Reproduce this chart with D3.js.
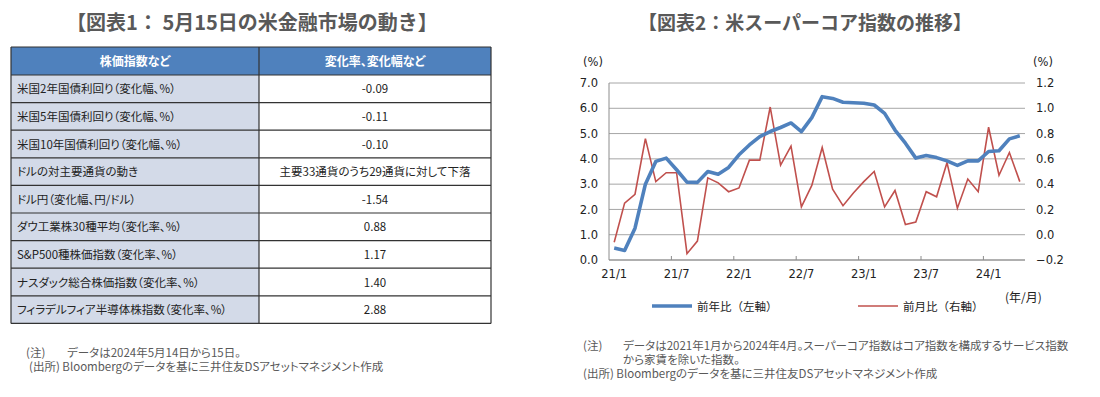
<!DOCTYPE html>
<html>
<head>
<meta charset="utf-8">
<script src="https://cdn.jsdelivr.net/npm/d3@7"></script>
<style>
body { margin: 0; background: #fff; }
text { font-family: "Noto Sans CJK JP", "Noto Sans", sans-serif; }
.palt { font-feature-settings: "palt"; }
</style>
</head>
<body>
<script>
// table (chart 1)
var tableHeaders = ["株価指数など", "変化率、変化幅など"];
var tableLabels = ["米国2年国債利回り（変化幅、%）", "米国5年国債利回り（変化幅、%）", "米国10年国債利回り（変化幅、%）",
    "ドルの対主要通貨の動き", "ドル円（変化幅、円/ドル）", "ダウ工業株30種平均（変化率、%）",
    "S&P500種株価指数（変化率、%）", "ナスダック総合株価指数（変化率、%）", "フィラデルフィア半導体株指数（変化率、%）"];
var tableValues = ["-0.09", "-0.11", "-0.10", "主要33通貨のうち29通貨に対して下落", "-1.54", "0.88", "1.17", "1.40", "2.88"];

// line chart (chart 2)
var months = ["21/1","21/2","21/3","21/4","21/5","21/6","21/7","21/8","21/9","21/10","21/11","21/12",
    "22/1","22/2","22/3","22/4","22/5","22/6","22/7","22/8","22/9","22/10","22/11","22/12",
    "23/1","23/2","23/3","23/4","23/5","23/6","23/7","23/8","23/9","23/10","23/11","23/12",
    "24/1","24/2","24/3","24/4"];
var yoy = [0.47,0.38,1.26,3.00,3.90,4.03,3.57,3.08,3.07,3.50,3.39,3.66,
    4.16,4.55,4.88,5.08,5.24,5.42,5.08,5.63,6.46,6.39,6.24,6.22,
    6.20,6.13,5.80,5.14,4.62,4.03,4.13,4.05,3.92,3.74,3.92,3.92,
    4.29,4.32,4.79,4.91];
var mom = [-0.06,0.25,0.32,0.76,0.42,0.49,0.49,-0.15,-0.05,0.45,0.41,0.34,
    0.37,0.59,0.59,1.01,0.55,0.70,0.22,0.39,0.69,0.36,0.23,0.33,
    0.42,0.50,0.22,0.35,0.08,0.10,0.34,0.30,0.57,0.21,0.44,0.34,
    0.85,0.47,0.65,0.42];
var leftTicks = [0,1,2,3,4,5,6,7];
var rightTicks = [-0.2,0,0.2,0.4,0.6,0.8,1.0,1.2];

var grayText = "#595959";

var svg = d3.select("body").append("svg")
    .attr("width", 1100)
    .attr("height", 397);

// ---------- chart 1: table ----------
svg.append("text")
    .attr("x", 252).attr("y", 30)
    .attr("text-anchor", "middle")
    .attr("font-size", 20).attr("font-weight", "bold")
    .attr("fill", grayText)
    .text("【図表1： 5月15日の米金融市場の動き】");

var tbl = {left: 11, mid: 259, right: 491, top: 47, headH: 28, rowH: 27.6};

var rowY = d3.scaleLinear().domain([0, tableLabels.length]).range([tbl.top + tbl.headH, tbl.top + tbl.headH + tbl.rowH * tableLabels.length]);

// header
svg.append("rect")
    .attr("x", tbl.left).attr("y", tbl.top)
    .attr("width", tbl.right - tbl.left).attr("height", tbl.headH)
    .attr("fill", "#4f81bd");
tableHeaders.forEach(function(h, i) {
    var cx = i == 0 ? (tbl.left + tbl.mid) / 2 : (tbl.mid + tbl.right) / 2;
    svg.append("text")
        .attr("class", "palt")
        .attr("x", cx).attr("y", tbl.top + tbl.headH / 2 + 4.5)
        .attr("text-anchor", "middle")
        .attr("font-size", 12).attr("font-weight", "bold")
        .attr("fill", "#fff")
        .text(h);
});

var rows = svg.selectAll(".row").data(tableLabels).enter().append("g");
rows.append("rect")
    .attr("x", tbl.left)
    .attr("y", function(d, i) { return rowY(i); })
    .attr("width", tbl.mid - tbl.left).attr("height", tbl.rowH)
    .attr("fill", "#d3dae8");
rows.append("text")
    .attr("class", "palt")
    .attr("x", tbl.left + 6)
    .attr("y", function(d, i) { return rowY(i) + tbl.rowH / 2 + 4.5; })
    .attr("font-size", 11.5).attr("fill", "#222")
    .text(function(d) { return d; });
rows.append("text")
    .attr("class", "palt")
    .attr("x", (tbl.mid + tbl.right) / 2)
    .attr("y", function(d, i) { return rowY(i) + tbl.rowH / 2 + 4.5; })
    .attr("text-anchor", "middle")
    .attr("font-size", 11.5).attr("fill", "#222")
    .text(function(d, i) { return tableValues[i]; });

// grid lines
var tableBottom = rowY(tableLabels.length);
d3.range(tableLabels.length + 1).forEach(function(i) {
    svg.append("line")
        .attr("x1", tbl.left).attr("x2", tbl.right)
        .attr("y1", rowY(i)).attr("y2", rowY(i))
        .attr("stroke", "#333").attr("stroke-width", 1.2);
});
svg.append("line").attr("x1", tbl.left).attr("x2", tbl.right)
    .attr("y1", tbl.top).attr("y2", tbl.top).attr("stroke", "#333").attr("stroke-width", 1.2);
[tbl.left, tbl.mid, tbl.right].forEach(function(x) {
    svg.append("line").attr("x1", x).attr("x2", x)
        .attr("y1", tbl.top).attr("y2", tableBottom)
        .attr("stroke", "#333").attr("stroke-width", 1.2);
});

// left notes, one text block
var leftNote = svg.append("text").attr("class", "palt").attr("font-size", 11.5).attr("fill", grayText);
leftNote.append("tspan").attr("x", 26).attr("y", 357).text("(注)");
leftNote.append("tspan").attr("x", 67).attr("y", 357).text("データは2024年5月14日から15日。");
leftNote.append("tspan").attr("x", 29).attr("y", 371).text("(出所) Bloombergのデータを基に三井住友DSアセットマネジメント作成");

// ---------- chart 2: lines ----------
svg.append("text")
    .attr("x", 805).attr("y", 30)
    .attr("text-anchor", "middle")
    .attr("font-size", 19).attr("font-weight", "bold")
    .attr("fill", grayText)
    .text("【図表2：米スーパーコア指数の推移】");

var plot = {left: 609, right: 1025, top: 83, bottom: 260};

var x = d3.scaleBand().domain(months).range([plot.left, plot.right]);
var yL = d3.scaleLinear().domain([0, 7]).range([plot.bottom, plot.top]);
var yR = d3.scaleLinear().domain([-0.2, 1.2]).range([plot.bottom, plot.top]);

var g = svg.append("g");

// horizontal grid
g.selectAll(".grid").data(leftTicks).enter().append("line")
    .attr("x1", plot.left).attr("x2", plot.right)
    .attr("y1", function(d) { return yL(d); }).attr("y2", function(d) { return yL(d); })
    .attr("stroke", "#a6a6a6").attr("stroke-width", 1);

// axes lines
g.append("line").attr("x1", plot.left).attr("x2", plot.left)
    .attr("y1", plot.top).attr("y2", plot.bottom).attr("stroke", "#8c8c8c");
g.append("line").attr("x1", plot.left).attr("x2", plot.right)
    .attr("y1", plot.bottom).attr("y2", plot.bottom).attr("stroke", "#8c8c8c");

// x tick marks at category boundaries (every 6 months)
var tickMonths = months.filter(function(m) { return /\/(1|7)$/.test(m); });
g.selectAll(".xtick").data(tickMonths.slice(1)).enter().append("line")
    .attr("x1", function(d) { return x(d); }).attr("x2", function(d) { return x(d); })
    .attr("y1", plot.bottom).attr("y2", plot.bottom - 4)
    .attr("stroke", "#8c8c8c");

var axisFont = "DejaVu Sans, Verdana, sans-serif";

var xAxis = svg.append("g")
    .attr("transform", "translate(0," + plot.bottom + ")")
    .call(d3.axisBottom(x).tickValues(tickMonths).tickSize(0).tickPadding(10));
xAxis.select(".domain").remove();
xAxis.selectAll("text").attr("font-size", 11.5).attr("fill", "#222").style("font-family", axisFont);

var yAxisL = svg.append("g")
    .attr("transform", "translate(" + 598 + ",0)")
    .call(d3.axisLeft(yL).tickValues(leftTicks).tickSize(0).tickPadding(0).tickFormat(d3.format(".1f")));
yAxisL.select(".domain").remove();
yAxisL.selectAll("text").attr("font-size", 11.5).attr("fill", "#222").style("font-family", axisFont);

var yAxisR = svg.append("g")
    .attr("transform", "translate(" + 1036 + ",0)")
    .call(d3.axisRight(yR).tickValues(rightTicks).tickSize(0).tickPadding(0).tickFormat(d3.format(".1f")));
yAxisR.select(".domain").remove();
yAxisR.selectAll("text").attr("font-size", 11.5).attr("fill", "#222").style("font-family", axisFont);

svg.append("text").attr("x", 593).attr("y", 66).attr("text-anchor", "middle")
    .attr("font-size", 11.5).attr("fill", "#222").style("font-family", axisFont).text("(%)");
svg.append("text").attr("x", 1043).attr("y", 66).attr("text-anchor", "middle")
    .attr("font-size", 11.5).attr("fill", "#222").style("font-family", axisFont).text("(%)");

var cx = function(d, i) { return x(months[i]) + x.bandwidth() / 2; };

g.append("path")
    .datum(mom)
    .attr("fill", "none")
    .attr("stroke", "#c0504d").attr("stroke-width", 1.6)
    .attr("d", d3.line().x(cx).y(function(d) { return yR(d); }));

g.append("path")
    .datum(yoy)
    .attr("fill", "none")
    .attr("stroke", "#4f81bd").attr("stroke-width", 3.6)
    .attr("stroke-linejoin", "round")
    .attr("d", d3.line().x(cx).y(function(d) { return yL(d); }));

// legend
var legend = [
    {name: "前年比（左軸）", color: "#4f81bd", w: 3.6, x: 652},
    {name: "前月比（右軸）", color: "#c0504d", w: 1.6, x: 858}
];
legend.forEach(function(l) {
    svg.append("line").attr("x1", l.x).attr("x2", l.x + 40)
        .attr("y1", 306).attr("y2", 306)
        .attr("stroke", l.color).attr("stroke-width", l.w);
    svg.append("text").attr("x", l.x + 45).attr("y", 310.5)
        .attr("font-size", 11.5).attr("fill", "#222").text(l.name);
});
svg.append("text").attr("x", 1005).attr("y", 302)
    .attr("font-size", 12).attr("fill", "#222").text("(年/月)");

// right notes, one wrapped text block
var rightNote = svg.append("text").attr("class", "palt").attr("font-size", 11.5).attr("fill", grayText);
rightNote.append("tspan").attr("x", 583).attr("y", 350).text("(注)");
rightNote.append("tspan").attr("x", 623).attr("y", 350).text("データは2021年1月から2024年4月。スーパーコア指数はコア指数を構成するサービス指数");
rightNote.append("tspan").attr("x", 623).attr("y", 364).text("から家賃を除いた指数。");
rightNote.append("tspan").attr("x", 583).attr("y", 378).text("(出所) Bloombergのデータを基に三井住友DSアセットマネジメント作成");
</script>
</body>
</html>
